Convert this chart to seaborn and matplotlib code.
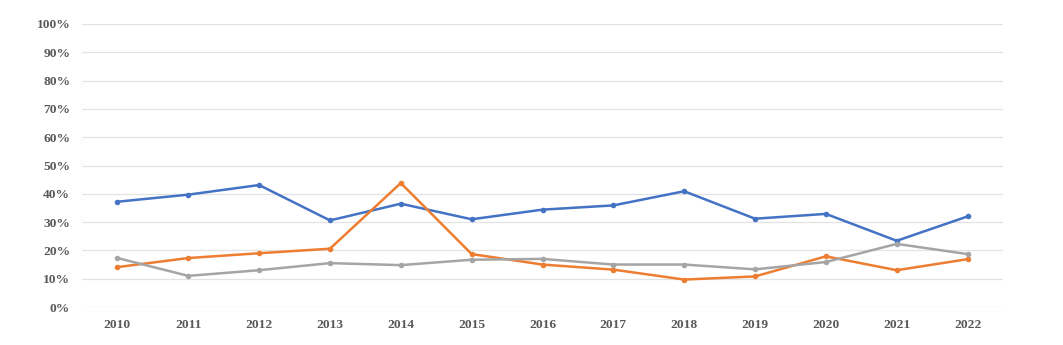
import matplotlib
matplotlib.use("Agg")
import matplotlib.pyplot as plt
import seaborn as sns
import pandas as pd
from matplotlib.ticker import PercentFormatter

years = ["2010", "2011", "2012", "2013", "2014", "2015", "2016",
         "2017", "2018", "2019", "2020", "2021", "2022"]
series_blue = [37.2, 39.7, 43.1, 30.6, 36.5, 31.0, 34.4, 35.9, 40.9, 31.2, 32.9, 23.4, 32.0]
series_orange = [14.1, 17.3, 19.0, 20.6, 43.8, 18.7, 15.0, 13.2, 9.7, 10.8, 17.9, 13.0, 16.9]
series_gray = [17.3, 11.0, 13.0, 15.5, 14.8, 16.7, 17.0, 15.0, 15.0, 13.3, 15.9, 22.3, 18.7]
series_names = ["A", "B", "C"]
colors = ["#4472C4", "#ED7D31", "#A5A5A5"]

sns.set_style("white")
plt.rcParams["font.family"] = ["Liberation Serif", "DejaVu Serif"]

frames = []
for name, vals in zip(series_names, [series_blue, series_orange, series_gray]):
    frames.append(pd.DataFrame({"year": years, "value": vals, "series": name}))
df = pd.concat(frames, ignore_index=True)
df["x"] = df["year"].map({y: i for i, y in enumerate(years)})

fig = plt.figure(figsize=(10.63, 3.45), dpi=100)
ax = fig.add_axes([82 / 1063, 1 - 307 / 345, (1003 - 82) / 1063, (307 - 24) / 345])

sns.lineplot(data=df, x="x", y="value", hue="series", palette=colors,
             marker="o", markersize=4, markeredgewidth=0, linewidth=1.8,
             legend=False, ax=ax)

ax.set_xlim(-0.5, len(years) - 0.5)
ax.set_ylim(0, 100)
ax.set_yticks(range(0, 101, 10))
ax.yaxis.set_major_formatter(PercentFormatter(decimals=0))
ax.set_xticks(range(len(years)))
ax.set_xticklabels(years)
ax.grid(axis="y", color="#E3E3E3", linewidth=0.9)
ax.set_axisbelow(True)
for s in ax.spines.values():
    s.set_visible(False)
ax.tick_params(axis="both", length=0, labelsize=9.7, labelcolor="#595959")
ax.tick_params(axis="y", pad=8.5)
ax.tick_params(axis="x", pad=9)
for lab in ax.get_xticklabels() + ax.get_yticklabels():
    lab.set_fontweight("bold")
ax.set_xlabel("")
ax.set_ylabel("")

fig.savefig("out.png", dpi=100)
